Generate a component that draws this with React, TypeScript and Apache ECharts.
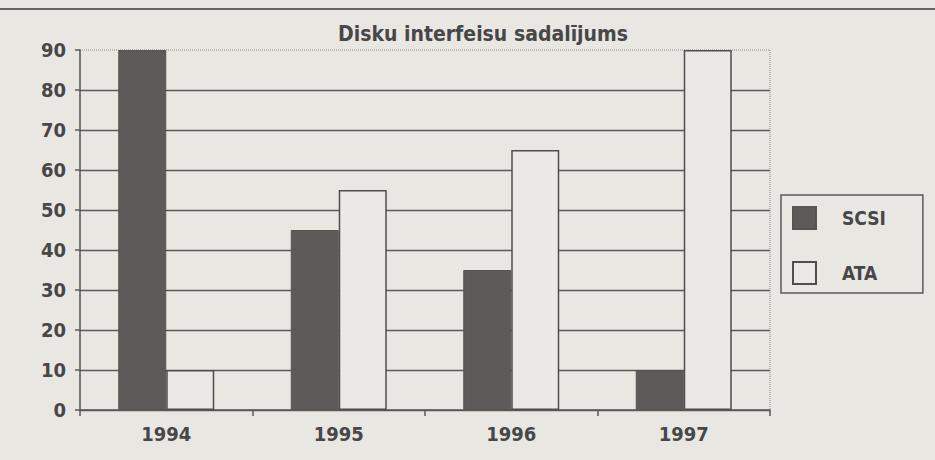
import React, { useEffect, useRef } from "react";
import * as echarts from "echarts";

const categories = ["1994", "1995", "1996", "1997"];
const scsiValues = [90, 45, 35, 10];
const ataValues = [10, 55, 65, 90];
const seriesNames = ["SCSI", "ATA"];
const titleText = "Disku interfeisu sadalījums";

const FONT = '"Liberation Sans Narrow", "DejaVu Sans Condensed", "Liberation Sans", sans-serif';
const INK = "#474747";
const LINE = "#5a5a5a";
const BG = "#e9e7e2";

export default function App() {
  const ref = useRef<HTMLDivElement>(null);
  useEffect(() => {
    if (!ref.current) return;
    const chart = echarts.init(ref.current, undefined, { renderer: "svg" });
    const splitColors = [LINE, LINE, LINE, LINE, LINE, LINE, LINE, LINE, LINE, "transparent"];
    chart.setOption({
      animation: false,
      backgroundColor: BG,
      title: {
        text: titleText,
        left: 478,
        textAlign: "center",
        top: 18,
        textStyle: { fontFamily: FONT, fontSize: 21, fontWeight: "bold", color: INK },
      },
      graphic: [
        {
          type: "line",
          shape: { x1: 0, y1: 9, x2: 935, y2: 9 },
          style: { stroke: "#666", lineWidth: 2 },
        },
      ],
      grid: {
        left: 80,
        right: 165,
        top: 50,
        bottom: 50,
        show: true,
        borderColor: "#888",
        borderType: "dotted",
        borderWidth: 1,
      },
      legend: {
        orient: "vertical",
        left: 781,
        top: 195,
        padding: [11, 37, 8, 11],
        itemGap: 31,
        itemWidth: 23,
        itemHeight: 22,
        icon: "rect",
        borderColor: LINE,
        borderWidth: 1.5,
        borderRadius: 0,
        textStyle: {
          fontFamily: FONT,
          fontSize: 19,
          fontWeight: "bold",
          color: INK,
          lineHeight: 22,
          padding: [0, 0, 0, 21],
        },
        data: seriesNames,
      },
      xAxis: {
        type: "category",
        data: categories,
        axisLine: { lineStyle: { color: LINE, width: 1.5 } },
        axisTick: { show: true, length: 6, lineStyle: { color: LINE, width: 1.5 } },
        axisLabel: { fontFamily: FONT, fontSize: 20, fontWeight: "bold", color: INK, margin: 14 },
      },
      yAxis: {
        type: "value",
        min: 0,
        max: 90,
        interval: 10,
        axisLine: { show: true, lineStyle: { color: LINE, width: 1.5 } },
        axisTick: { show: true, length: 5, lineStyle: { color: LINE, width: 1.5 } },
        splitLine: { show: true, lineStyle: { color: splitColors, width: 1.3 } },
        axisLabel: { fontFamily: FONT, fontSize: 20, fontWeight: "bold", color: INK, margin: 14 },
      },
      series: [
        {
          name: seriesNames[0],
          type: "bar",
          data: scsiValues,
          barWidth: 48,
          barGap: "0%",
          itemStyle: { color: "#5c5b59", borderColor: "#555", borderWidth: 1 },
        },
        {
          name: seriesNames[1],
          type: "bar",
          data: ataValues,
          barWidth: 48,
          itemStyle: { color: "#ebe9e5", borderColor: "#4e4e4e", borderWidth: 1.5 },
        },
      ],
    });
    return () => chart.dispose();
  }, []);
  return (
    <div
      ref={ref}
      style={{ position: "fixed", left: 0, top: 0, width: 935, height: 460 }}
    />
  );
}
